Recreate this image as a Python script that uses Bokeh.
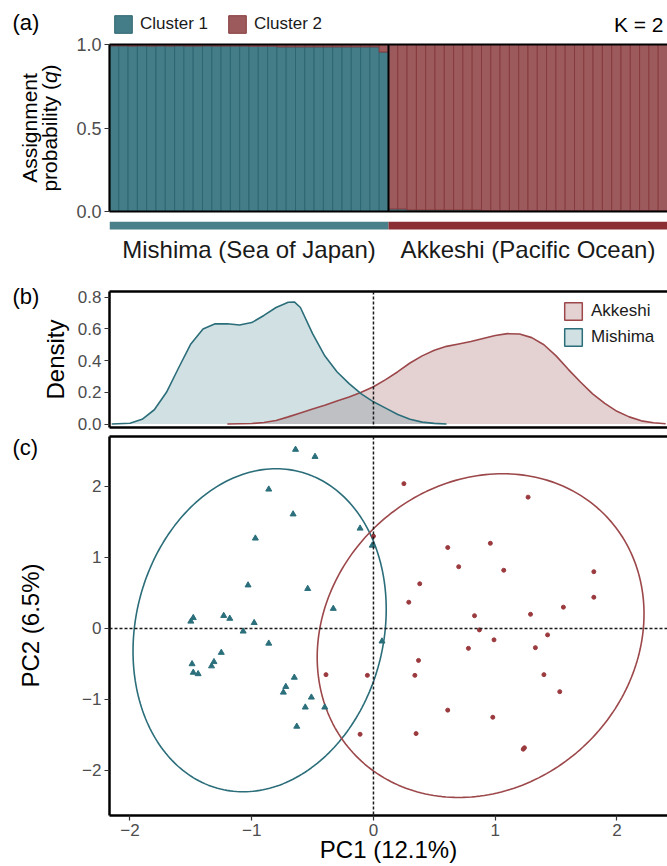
import numpy as np
from bokeh.plotting import figure
from bokeh.layouts import column, row
from bokeh.models import (Range1d, ColumnDataSource, Legend, LegendItem, Label,
                          LinearAxis, FixedTicker, Span, CustomJSTickFormatter)
from bokeh.embed import file_html
from bokeh.resources import INLINE
from bokeh.core.properties import value

FONT = "Liberation Sans"

# ---------------- data ----------------
cluster_names = ["Cluster 1", "Cluster 2"]
population_names = ["Mishima (Sea of Japan)", "Akkeshi (Pacific Ocean)"]
k_label = "K = 2"

# assignment probability to cluster 1 (cluster 2 = 1 - q)
mishima_q_cluster1 = [0.992, 0.992, 0.991, 0.992, 0.991, 0.992, 0.991, 0.992, 0.991, 0.991,
                      0.992, 0.991, 0.991, 0.991, 0.991, 0.990, 0.990, 0.990, 0.986, 0.986,
                      0.986, 0.986, 0.986, 0.986, 0.986, 0.986, 0.986, 0.986, 0.986, 0.955]
akkeshi_q_cluster1 = [0.015, 0.015, 0.009, 0.009, 0.009, 0.009, 0.009, 0.009, 0.009, 0.009,
                      0.005, 0.005, 0.005, 0.005, 0.005, 0.005, 0.005, 0.005, 0.005, 0.005,
                      0.005, 0.005, 0.005, 0.005, 0.005, 0.005, 0.005, 0.005, 0.005, 0.005]
q_ticks = [0.0, 0.5, 1.0]

# density of PC1 scores
density_groups = ["Akkeshi", "Mishima"]
mishima_pc1_grid = [-2.15, -2.0, -1.9, -1.8, -1.7, -1.6, -1.5, -1.4, -1.3, -1.2, -1.1, -1.0,
                    -0.9, -0.8, -0.7, -0.65, -0.6, -0.5, -0.4, -0.3, -0.2, -0.1, 0.0, 0.1,
                    0.2, 0.3, 0.4, 0.5, 0.6]
mishima_density = [0.0, 0.005, 0.03, 0.09, 0.2, 0.355, 0.505, 0.6, 0.632, 0.633, 0.625, 0.64,
                   0.685, 0.735, 0.768, 0.77, 0.735, 0.57, 0.43, 0.33, 0.255, 0.19, 0.14, 0.10,
                   0.06, 0.03, 0.012, 0.004, 0.0]
akkeshi_pc1_grid = [-1.2, -1.0, -0.9, -0.8, -0.7, -0.6, -0.5, -0.4, -0.3, -0.2, -0.1, 0.0,
                    0.1, 0.2, 0.3, 0.4, 0.5, 0.6, 0.7, 0.8, 0.9, 1.0, 1.1, 1.2, 1.3, 1.4,
                    1.5, 1.6, 1.7, 1.8, 1.9, 2.0, 2.1, 2.2, 2.3, 2.4]
akkeshi_density = [0.0, 0.003, 0.01, 0.022, 0.045, 0.07, 0.095, 0.118, 0.145, 0.17, 0.2, 0.235,
                   0.28, 0.33, 0.385, 0.43, 0.465, 0.49, 0.505, 0.52, 0.54, 0.558, 0.57, 0.568,
                   0.545, 0.5, 0.43, 0.345, 0.265, 0.19, 0.13, 0.08, 0.045, 0.02, 0.008, 0.002]
density_ticks = [0.0, 0.2, 0.4, 0.6, 0.8]

# PCA scores
mishima_pc1 = [-0.64, -0.48, -0.86, -0.66, -0.11, -0.97, -0.01, -1.03, -0.54, -0.33, -1.23,
               -1.18, -1.48, -1.50, -0.98, -1.07, -0.86, -1.25, -1.31, -1.33, -1.49, -1.48,
               -1.44, -0.65, -0.72, -0.74, -0.51, -0.56, -0.40, -0.63, 0.07]
mishima_pc2 = [2.52, 2.42, 1.96, 1.61, 1.41, 1.27, 1.17, 0.61, 0.56, 0.28, 0.18,
               0.14, 0.15, 0.10, 0.08, -0.04, -0.21, -0.34, -0.47, -0.53, -0.50, -0.62,
               -0.64, -0.69, -0.82, -0.90, -0.97, -1.11, -1.11, -1.38, -0.18]
akkeshi_pc1 = [0.25, 1.27, 0.61, 0.96, 0.70, 1.07, 1.81, 0.38, 0.29, 1.81, 1.56, 0.83, 1.29,
               0.00, 0.87, 1.43, 0.99, 0.78, 1.33, 0.37, -0.39, -0.05, 0.34, 1.40, 1.53, 0.61,
               0.98, -0.11, 0.35, 1.23, 1.24]
akkeshi_pc2 = [2.04, 1.85, 1.14, 1.20, 0.87, 0.82, 0.80, 0.63, 0.37, 0.44, 0.30, 0.18, 0.20,
               1.30, -0.02, -0.09, -0.16, -0.28, -0.27, -0.45, -0.65, -0.66, -0.66, -0.65, -0.89,
               -1.15, -1.25, -1.49, -1.48, -1.70, -1.68]
# 95% ellipses: centre x, centre y, x-cos amplitude, x-sin amplitude, y-sin amplitude
mishima_ellipse = [-0.935, -0.025, 1.031, 0.135, 2.275]
akkeshi_ellipse = [0.88, -0.10, 1.33, 0.18, 2.28]
pc_ticks = [-2, -1, 0, 1, 2]
pc1_limits = [-2.168, 2.415]
pc2_limits = [-2.634, 2.704]
density_limits = [-0.022, 0.836]

# ---------------- styles ----------------
TEAL_BAR, TEAL_BAR_LINE = "#447d88", "#2d6671"
RED_BAR, RED_BAR_LINE = "#9d5a5c", "#873b3e"
TEAL_STRIP, RED_STRIP = "#4a808a", "#8c2f34"
TEAL_LINE, RED_LINE = "#2b6e7a", "#9c474a"
TEAL_FILL, RED_FILL = "#6698a2", "#a5696c"
TEAL_PT, RED_PT = "#2a6f7b", "#9b3a3e"
TICK_COL = "#4d4d4d"
LW = 72            # width of the left title strip
W = 667 - LW       # width of each panel figure
LEFT = 109 - LW    # left border of panel figures


def base_fig(h, xr, yr, top, bottom, axes=True):
    kw = {}
    if not axes:
        kw = dict(x_axis_location=None, y_axis_location=None)
    p = figure(width=W, height=h, x_range=xr, y_range=yr, output_backend="svg",
               toolbar_location=None, min_border_left=LEFT, min_border_right=0,
               min_border_top=top, min_border_bottom=bottom, **kw)
    p.outline_line_color = None
    p.xgrid.visible = False
    p.ygrid.visible = False
    return p


def style_axis(ax, ticks=None, fmt=None, size="17px", lw=2.5):
    ax.axis_line_color = "black"
    ax.axis_line_width = lw
    ax.minor_tick_line_color = None
    ax.minor_tick_out = 0
    ax.minor_tick_in = 0
    if ticks is None:
        ax.ticker = FixedTicker(ticks=[])
        ax.major_tick_out = 0
        ax.major_tick_in = 0
        ax.major_label_standoff = 0
        ax.major_tick_line_color = None
    else:
        ax.ticker = FixedTicker(ticks=ticks)
        ax.formatter = fmt
        ax.major_tick_line_color = "#333333"
        ax.major_tick_line_width = 1.2
        ax.major_tick_out = 5
        ax.major_tick_in = 0
        ax.major_label_standoff = 3
        ax.major_label_text_font = FONT
        ax.major_label_text_font_size = size
        ax.major_label_text_color = TICK_COL


def add_top_border(p, lw=2.5):
    ax = LinearAxis()
    style_axis(ax, lw=lw)
    p.add_layout(ax, "above")


def lab(p, x, y, text, size, angle=0.0, align="center", baseline="middle",
        style="normal", color="black"):
    p.add_layout(Label(x=x, y=y, text=text, angle=angle, text_align=align,
                       text_baseline=baseline, text_font=FONT,
                       text_font_size=f"{size}px", text_font_style=style,
                       text_color=color))


fmt1 = CustomJSTickFormatter(code="return tick.toFixed(1);")
fmt_int = CustomJSTickFormatter(code="return tick < 0 ? '\u2212' + Math.abs(tick) : tick.toString();")

# ---------------- header (legend + K) ----------------
HH = 35
FW = 667 - 109
figH = figure(width=W, height=HH, x_range=Range1d(0, FW), y_range=Range1d(HH, 0),
              output_backend="svg", toolbar_location=None, min_border_left=LEFT,
              min_border_right=0, min_border_top=0, min_border_bottom=0,
              x_axis_location=None, y_axis_location=None)
figH.outline_line_color = None
figH.xgrid.visible = False
figH.ygrid.visible = False
h1 = figH.vbar(x=[0], top=[1], width=1, fill_color=TEAL_BAR, line_color=TEAL_BAR_LINE,
               line_width=1, visible=False)
h2 = figH.vbar(x=[0], top=[1], width=1, fill_color=RED_BAR, line_color=RED_BAR_LINE,
               line_width=1, visible=False)
legH = Legend(items=[LegendItem(label=cluster_names[0], renderers=[h1]),
                     LegendItem(label=cluster_names[1], renderers=[h2])],
              location=(3, 0), orientation="horizontal", glyph_width=22, glyph_height=22,
              spacing=18, padding=0, margin=0, label_standoff=6,
              label_text_font=FONT, label_text_font_size="17px", label_text_color="#1a1a1a",
              border_line_color=None, background_fill_alpha=0,
              inactive_fill_alpha=0)
figH.add_layout(legH)
lab(figH, FW - 4, 24, k_label, 21, align="right", baseline="middle")

# ---------------- panel (a) ----------------
q1 = mishima_q_cluster1 + akkeshi_q_cluster1
q2 = [1 - v for v in q1]
N = len(q1)
NM = len(mishima_q_cluster1)
srcA = ColumnDataSource(dict(x=[i + 0.5 for i in range(N)], c1=q1, c2=q2))
AH = 186
figA = base_fig(AH, Range1d(0, N), Range1d(0, 1), 9, 10)
figA.vbar_stack(["c1", "c2"], x="x", width=1, source=srcA,
                fill_color=[TEAL_BAR, RED_BAR], line_color=[TEAL_BAR_LINE, RED_BAR_LINE],
                line_width=1)
figA.add_layout(Span(location=NM, dimension="height", line_color="black", line_width=2))
style_axis(figA.yaxis[0], q_ticks, fmt1, "18px", lw=2.2)
style_axis(figA.xaxis[0], lw=2.2)
add_top_border(figA, lw=2.2)

# ---------------- strip with population labels ----------------
SH = 61
figS = base_fig(SH, figA.x_range, Range1d(SH, 0), 0, 0, axes=False)
figS.quad(left=[0, NM], right=[NM, N], top=[0, 0], bottom=[8, 8],
          fill_color=[TEAL_STRIP, RED_STRIP], line_color=None)
figS.text(x=[NM / 2, NM + (N - NM) / 2], y=[27.5, 27.5], text=population_names,
          text_font=value(FONT), text_font_size=value("24px"), text_align="center",
          text_baseline="middle", text_color="#1a1a1a")

# ---------------- panel (b) ----------------
BH = 152
figB = base_fig(BH, Range1d(*pc1_limits), Range1d(*density_limits), 9, 7)
figB.varea(x=akkeshi_pc1_grid, y1=0, y2=akkeshi_density, fill_color=RED_FILL, fill_alpha=0.3)
figB.varea(x=mishima_pc1_grid, y1=0, y2=mishima_density, fill_color=TEAL_FILL, fill_alpha=0.3)
figB.line(akkeshi_pc1_grid, akkeshi_density, line_color=RED_LINE, line_width=1.6)
figB.line(mishima_pc1_grid, mishima_density, line_color=TEAL_LINE, line_width=1.6)
figB.add_layout(Span(location=0, dimension="height", line_color="#1a1a1a",
                     line_width=1.5, line_dash="3 2"))
dA = figB.quad(left=[akkeshi_pc1_grid[0]], right=[akkeshi_pc1_grid[-1]], bottom=[0],
               top=[max(akkeshi_density)], fill_color=RED_FILL, fill_alpha=0.3,
               line_color=RED_LINE, line_width=1.5, visible=False)
dM = figB.quad(left=[mishima_pc1_grid[0]], right=[mishima_pc1_grid[-1]], bottom=[0],
               top=[max(mishima_density)], fill_color=TEAL_FILL, fill_alpha=0.3,
               line_color=TEAL_LINE, line_width=1.5, visible=False)
legB = Legend(items=[LegendItem(label=density_groups[0], renderers=[dA]),
                     LegendItem(label=density_groups[1], renderers=[dM])],
              location=(453, 79), orientation="vertical", glyph_width=22, glyph_height=22,
              spacing=4, padding=0, margin=0, label_standoff=7,
              label_text_font=FONT, label_text_font_size="17px", label_text_color="#1a1a1a",
              border_line_color=None, background_fill_alpha=0, inactive_fill_alpha=0)
figB.add_layout(legB)
style_axis(figB.yaxis[0], density_ticks, fmt1, "17px")
style_axis(figB.xaxis[0])
add_top_border(figB)

# ---------------- panel (c) ----------------
CH = 432
figC = base_fig(CH, Range1d(*pc1_limits), Range1d(*pc2_limits), 2, 51)
t = np.linspace(0, 2 * np.pi, 241)
for e, col in ((mishima_ellipse, TEAL_LINE), (akkeshi_ellipse, RED_LINE)):
    ex = e[0] + e[2] * np.cos(t) + e[3] * np.sin(t)
    ey = e[1] + e[4] * np.sin(t)
    figC.line(ex, ey, line_color=col, line_width=1.6)
figC.add_layout(Span(location=0, dimension="height", line_color="#1a1a1a",
                     line_width=1.5, line_dash="3 2"))
figC.add_layout(Span(location=0, dimension="width", line_color="#1a1a1a",
                     line_width=1.5, line_dash="3 2"))
figC.scatter(mishima_pc1, mishima_pc2, marker="triangle", size=6, fill_color=TEAL_PT,
             line_color=TEAL_PT)
figC.scatter(akkeshi_pc1, akkeshi_pc2, marker="circle", size=4, fill_color=RED_PT,
             line_color=RED_PT)
style_axis(figC.yaxis[0], pc_ticks, fmt_int, "17px")
style_axis(figC.xaxis[0], pc_ticks, fmt_int, "17px")
figC.xaxis[0].axis_label = "PC1 (12.1%)"
figC.xaxis[0].axis_label_text_font = FONT
figC.xaxis[0].axis_label_text_font_size = "24px"
figC.xaxis[0].axis_label_text_font_style = "normal"
figC.xaxis[0].axis_label_text_color = "black"
figC.xaxis[0].axis_label_standoff = -3
add_top_border(figC)

# ---------------- left strip: panel letters and y-axis titles ----------------
TOTAL_H = HH + AH + SH + BH + CH
figL = figure(width=LW, height=TOTAL_H, x_range=Range1d(0, LW), y_range=Range1d(TOTAL_H, 0),
              output_backend="svg", toolbar_location=None, min_border=0,
              min_border_left=0, min_border_right=0, min_border_top=0, min_border_bottom=0,
              x_axis_location=None, y_axis_location=None)
figL.outline_line_color = None
figL.xgrid.visible = False
figL.ygrid.visible = False

lab(figL, 12, 22, "(a)", 22, align="left")
fsA = 21
lab(figL, 28.5, 127.5, "Assignment", fsA, angle=np.pi / 2)
start = 127.5 + 6.057 * fsA / 2
lab(figL, 49, start, "probability (", fsA, angle=np.pi / 2, align="left")
lab(figL, 49, start - 5.168 * fsA, "q", fsA, angle=np.pi / 2, align="left", style="italic")
lab(figL, 49, start - 5.724 * fsA, ")", fsA, angle=np.pi / 2, align="left")
lab(figL, 12, 296, "(b)", 22, align="left")
lab(figL, 55, 359, "Density", 24, angle=np.pi / 2)
lab(figL, 12, 447, "(c)", 22, align="left")
lab(figL, 30, 625, "PC2 (6.5%)", 24, angle=np.pi / 2)

layout = row(figL, column(figH, figA, figS, figB, figC, spacing=0), spacing=0)
open("out.html", "w").write(file_html(layout, INLINE))
